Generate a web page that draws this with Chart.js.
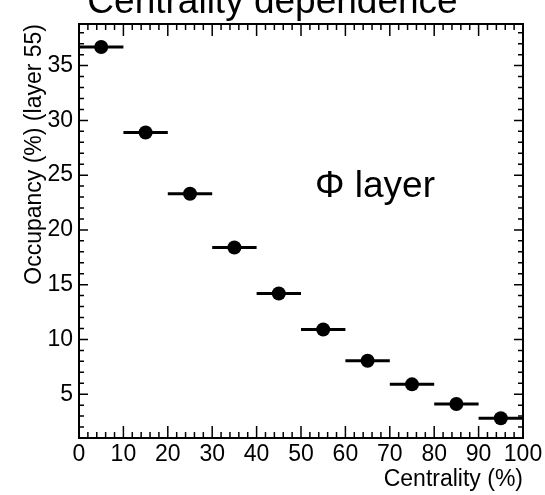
<!DOCTYPE html>
<html>
<head>
<meta charset="utf-8">
<script src="https://cdn.jsdelivr.net/npm/chart.js@4"></script>
<style>
  body { margin: 0; background: #fff; }
  canvas { display: block; }
</style>
</head>
<body>
<canvas id="occupancyChart" width="545" height="495"></canvas>
<script>
// centrality bins (%) and the occupancy measured in each one
var binEdges = [0, 10, 20, 30, 40, 50, 60, 70, 80, 90, 100];
var occupancy = [36.7, 28.9, 23.3, 18.4, 14.2, 10.9, 8.05, 5.9, 4.1, 2.8];
var xTicks = [0, 10, 20, 30, 40, 50, 60, 70, 80, 90, 100];
var yTicks = [5, 10, 15, 20, 25, 30, 35];
var yRange = [1, 38.8];

var FONT = 'Liberation Sans, Arial, Helvetica, sans-serif';

// points sit at the bin centre, error bar spans the bin
var points = [];
var binBars = [];
for (var i = 0; i < occupancy.length; i++) {
    var lo = binEdges[i], hi = binEdges[i + 1];
    points.push({x: (lo + hi) / 2, y: occupancy[i]});
    binBars.push({x: lo, y: occupancy[i]});
    binBars.push({x: hi, y: occupancy[i]});
    binBars.push({x: hi, y: null});
}

// ROOT style frame: box on all sides, ticks pointing inward
var frameTicks = {
    id: 'frameTicks',
    afterDatasetsDraw: function(chart) {
        var ctx = chart.ctx, a = chart.chartArea;
        var xs = chart.scales.x, ys = chart.scales.y;
        ctx.save();
        ctx.strokeStyle = '#000';
        ctx.lineWidth = 1.5;
        ctx.beginPath();
        for (var v = xs.min; v <= xs.max + 1e-6; v += 2) {
            var px = xs.getPixelForValue(v);
            var len = (Math.round(v) % 10 === 0) ? 12 : 6;
            ctx.moveTo(px, a.bottom); ctx.lineTo(px, a.bottom - len);
            ctx.moveTo(px, a.top); ctx.lineTo(px, a.top + len);
        }
        for (var w = Math.ceil(ys.min); w <= ys.max; w += 1) {
            var py = ys.getPixelForValue(w);
            var l2 = (w % 5 === 0) ? 9 : 5;
            ctx.moveTo(a.left, py); ctx.lineTo(a.left + l2, py);
            ctx.moveTo(a.right, py); ctx.lineTo(a.right - l2, py);
        }
        ctx.stroke();
        ctx.lineWidth = 2;
        ctx.strokeRect(a.left, a.top, a.right - a.left, a.bottom - a.top);
        ctx.restore();
    },
    afterDraw: function(chart) {
        var ctx = chart.ctx, a = chart.chartArea;
        ctx.save();
        ctx.fillStyle = '#000';
        ctx.font = '37px ' + FONT;
        ctx.textBaseline = 'alphabetic';
        ctx.fillText('\u03A6 layer', a.left + 236, 197);
        ctx.restore();
    }
};

var ctx = document.getElementById('occupancyChart').getContext('2d');
var chartInstance = new Chart(ctx, {
    type: 'scatter',
    data: {
        datasets: [{
            label: 'Occupancy',
            data: points,
            backgroundColor: '#000',
            borderColor: '#000',
            pointRadius: 7,
            pointBorderWidth: 0
        }, {
            label: 'Bin width',
            data: binBars,
            showLine: true,
            spanGaps: false,
            borderColor: '#000',
            borderWidth: 3,
            borderCapStyle: 'butt',
            pointRadius: 0,
            tension: 0
        }]
    },
    options: {
        responsive: false,
        animation: false,
        layout: { padding: { left: 0, right: 0, top: 0, bottom: 0 } },
        scales: {
            x: {
                type: 'linear',
                min: xTicks[0],
                max: xTicks[xTicks.length - 1],
                afterBuildTicks: function(scale) {
                    scale.ticks = xTicks.map(function(v) { return {value: v}; });
                },
                afterFit: function(scale) {
                    scale.height = 57;
                    scale.paddingRight = 22;
                },
                grid: { display: false, drawTicks: false },
                border: { display: false },
                ticks: {
                    color: '#000',
                    padding: 3,
                    maxRotation: 0,
                    autoSkip: false,
                    font: { family: FONT, size: 23 }
                },
                title: {
                    display: true,
                    text: 'Centrality (%)',
                    align: 'end',
                    color: '#000',
                    padding: { top: 0, bottom: 2 },
                    font: { family: FONT, size: 23 }
                }
            },
            y: {
                type: 'linear',
                min: yRange[0],
                max: yRange[1],
                afterBuildTicks: function(scale) {
                    scale.ticks = yTicks.map(function(v) { return {value: v}; });
                },
                afterFit: function(scale) {
                    scale.width = 79;
                },
                grid: { display: false, drawTicks: false },
                border: { display: false },
                ticks: {
                    color: '#000',
                    padding: 6,
                    autoSkip: false,
                    font: { family: FONT, size: 23 }
                },
                title: {
                    display: true,
                    text: 'Occupancy (%) (layer 55)',
                    align: 'end',
                    color: '#000',
                    padding: { top: 21, bottom: 0 },
                    font: { family: FONT, size: 23 }
                }
            }
        },
        plugins: {
            legend: { display: false },
            tooltip: { enabled: false },
            title: {
                display: true,
                text: 'Centrality dependence',
                color: '#000',
                padding: { top: -19, bottom: -1.4 },
                font: { family: FONT, size: 37, weight: 'normal' }
            }
        }
    },
    plugins: [frameTicks]
});
</script>
</body>
</html>
